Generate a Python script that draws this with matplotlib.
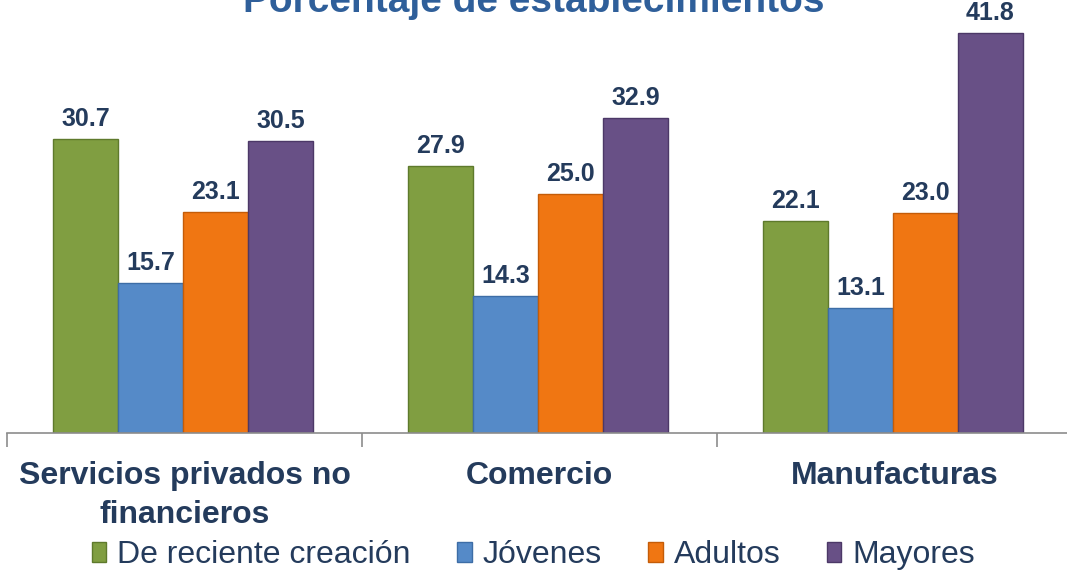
import matplotlib.pyplot as plt
import numpy as np

categories = ['Servicios privados no\nfinancieros', 'Comercio', 'Manufacturas']
series = ['De reciente creación', 'Jóvenes', 'Adultos', 'Mayores']
reciente = [30.7, 27.9, 22.1]
jovenes = [15.7, 14.3, 13.1]
adultos = [23.1, 25.0, 23.0]
mayores = [30.5, 32.9, 41.8]
colors = ['#809E41', '#558AC8', '#F07612', '#685086']
edges = ['#5E7A2C', '#3D6DA6', '#C45C08', '#4C3867']
text_color = '#243B5C'

plt.rcParams['font.family'] = ['Liberation Sans', 'DejaVu Sans']

W, H = 1067, 571
fig = plt.figure(figsize=(W / 100, H / 100), dpi=100)
# axes placed in pixels: baseline at y=433, groups 355 px wide starting at x=7
ax = fig.add_axes([7 / W, (H - 433) / H, 1065 / W, 433 / H])

x = np.arange(len(categories))
width = 65 / 355
values = [reciente, jovenes, adultos, mayores]
for i, (vals, name) in enumerate(zip(values, series)):
    pos = x + (i - 1.5) * width - 1.5 / 355
    bars = ax.bar(pos, vals, width, color=colors[i], edgecolor=edges[i],
                  linewidth=1, label=name)
    for b, v in zip(bars, vals):
        ax.text(b.get_x() + b.get_width() / 2, v + 1.35, f'{v:.1f}',
                ha='center', va='baseline', fontsize=18, fontweight='bold',
                color=text_color)

ax.set_xlim(-0.5, 2.5)
ax.set_ylim(0, 433 / 9.58)
for s in ['top', 'right', 'left']:
    ax.spines[s].set_visible(False)
ax.spines['bottom'].set_color('#8C8C8C')
ax.spines['bottom'].set_linewidth(1.2)
ax.set_yticks([])
ax.set_xticks([-0.5, 0.5, 1.5, 2.5])
ax.set_xticklabels([])
ax.tick_params(axis='x', direction='out', length=10, color='#8C8C8C', width=1.2)

for xi, cat in zip(x, categories):
    ax.text(xi, -2.9, cat, ha='center', va='top', fontsize=23,
            fontweight='bold', color=text_color, linespacing=1.42)

fig.text(0.5, 1 - 12 / H, 'Porcentaje de establecimientos', ha='center',
         va='baseline', fontsize=28, fontweight='bold', color='#2F5F9A')

leg = fig.legend(loc='center', bbox_to_anchor=(0.5, 1 - 555 / H), ncol=4,
                 frameon=False, fontsize=23, handlelength=0.45,
                 handleheight=0.6, handletextpad=0.35, columnspacing=1.45)
for t in leg.get_texts():
    t.set_color(text_color)

fig.savefig('out.png', dpi=100)
